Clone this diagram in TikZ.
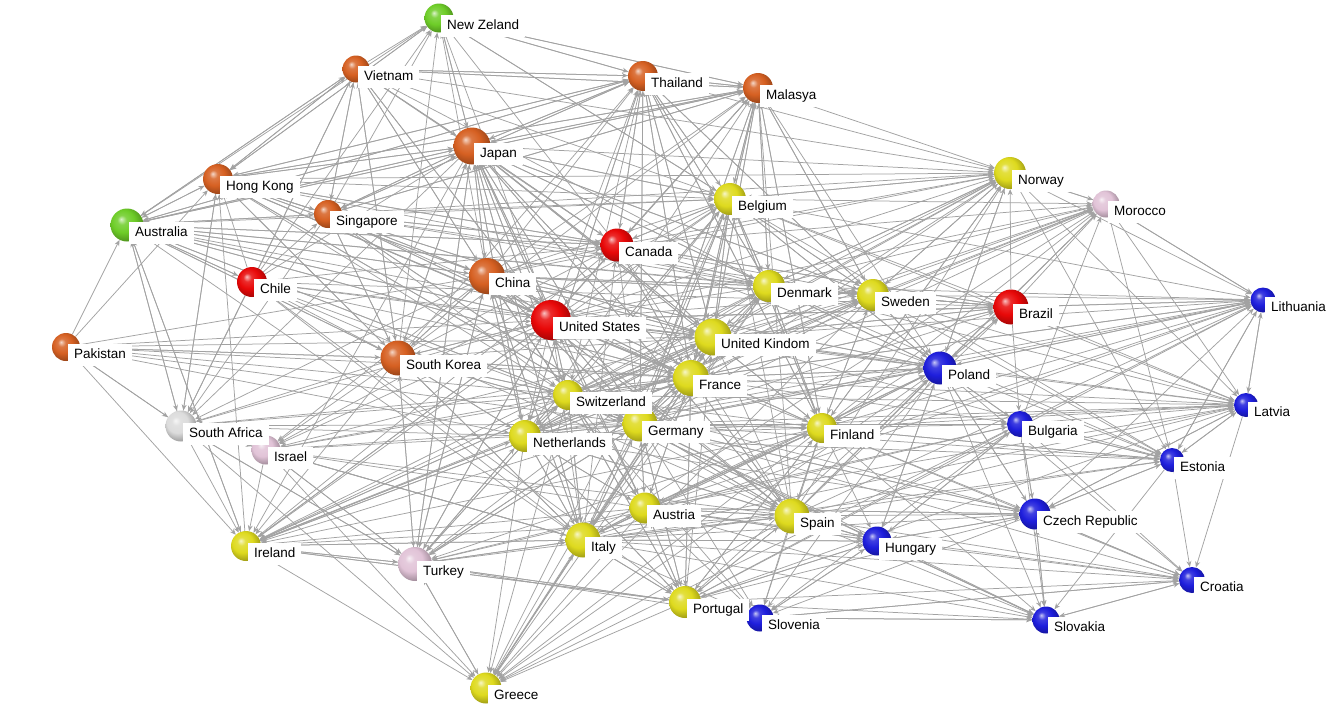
\documentclass[tikz,border=0pt]{standalone}
\usepackage{fontspec}
\setmainfont{Liberation Sans}
\usetikzlibrary{arrows.meta,shadings}
\pgfdeclarelayer{background}
\pgfsetlayers{background,main}
\definecolor{corange}{RGB}{214,96,34}
\definecolor{cred}{RGB}{232,8,8}
\definecolor{cyellow}{RGB}{222,218,30}
\definecolor{cblue}{RGB}{30,30,220}
\definecolor{cgreen}{RGB}{110,205,40}
\definecolor{cpink}{RGB}{225,195,215}
\definecolor{cwhite}{RGB}{220,220,220}
\definecolor{edgegray}{RGB}{162,162,162}
\makeatletter
\pgfdeclareradialshading[tikz@ball]{sphere}{\pgfqpoint{-9bp}{9bp}}{%
  color(0bp)=(tikz@ball!25!white); color(7bp)=(tikz@ball!85!white);
  color(17bp)=(tikz@ball); color(29bp)=(tikz@ball!72!black);
  color(40bp)=(tikz@ball!50!black); color(50bp)=(tikz@ball!40!black)}
\makeatother
\tikzset{
  ballnode/.style={circle, inner sep=0pt, draw=none},
  lbl/.style={anchor=north west, fill=white, inner xsep=6pt, inner ysep=3.5pt,
    text height=11pt, text depth=4pt, font=\fontsize{13.5}{16}\selectfont},
  lnk/.style={draw=edgegray, line width=0.75pt, -{Stealth[length=6pt,width=5pt]}}
}
\def\ctrylist{nz/439/18/29/cgreen/New Zeland,
vn/356/69/27/corange/Vietnam,
th/643/76/30/corange/Thailand,
my/758/88/30/corange/Malasya,
jp/472/146/37/corange/Japan,
hk/218/179/30/corange/Hong Kong,
sg/328/214/28/corange/Singapore,
au/127/225/33/cgreen/Australia,
be/730/199/32/cyellow/Belgium,
no/1010/173/32/cyellow/Norway,
ma/1106/204/27/cpink/Morocco,
ca/617/245/33/cred/Canada,
cn/487/276/36/corange/China,
cl/252/282/30/cred/Chile,
dk/769/286/32/cyellow/Denmark,
se/873/295/32/cyellow/Sweden,
br/1011/307/35/cred/Brazil,
lt/1263/300/25/cblue/Lithuania,
us/551/320/40/cred/United States,
uk/713/337/37/cyellow/United Kindom,
pk/66/347/28/corange/Pakistan,
kr/398/358/35/corange/South Korea,
pl/940/368/33/cblue/Poland,
fr/691/378/36/cyellow/France,
ch/568/395/30/cyellow/Switzerland,
lv/1246/405/24/cblue/Latvia,
za/181/426/31/cwhite/South Africa,
il/266/450/29/cpink/Israel,
nl/525/436/32/cyellow/Netherlands,
de/640/424/35/cyellow/Germany,
fi/822/428/30/cyellow/Finland,
bg/1020/424/26/cblue/Bulgaria,
ee/1172/460/24/cblue/Estonia,
at/645/508/31/cyellow/Austria,
es/792/516/35/cyellow/Spain,
cz/1035/514/31/cblue/Czech Republic,
hu/877/541/29/cblue/Hungary,
ie/246/546/30/cyellow/Ireland,
it/583/540/35/cyellow/Italy,
tr/415/564/34/cpink/Turkey,
hr/1192/580/26/cblue/Croatia,
pt/685/602/32/cyellow/Portugal,
si/760/618/27/cblue/Slovenia,
sk/1046/620/27/cblue/Slovakia,
gr/486/688/31/cyellow/Greece}
\def\linklist{vn/{nz,th,my,hk,au,sg,jp,be,us,cn,kr,ca,dk,no,za},
th/{nz,vn,my,jp,hk,sg,au,no,be,dk,uk,fr,de,se,fi,ch,nl,ca},
my/{nz,th,jp,hk,sg,vn,au,be,dk,se,fi,uk,fr,de,no,pl,ca},
jp/{nz,vn,th,my,hk,sg,au,kr,cn,be,no,ca,de,fr,ch,nl,it,uk,dk,se,fi,at,es,us,tr,ie,za},
hk/{nz,vn,au,sg,jp,th,my,cn,us,ca,uk,fr,de,kr,ch,dk,be,no,za},
sg/{nz,vn,hk,au,th,my,jp,cn,us,ca,uk,fr,de,kr,be,dk,se,no,ch,za},
au/{nz,vn,hk,sg,jp,th,my,us,ca,kr,cn,uk,fr,de,cl,za,ie,be,dk,se},
nz/{th,my,be,jp,hk},
cn/{nz,vn,th,my,jp,hk,sg,au,kr,us,ca,be,dk,no,uk,fr,de,ch,nl,it,es,fi,se,at,pl,tr,za,il},
kr/{nz,vn,th,my,jp,hk,sg,au,cn,us,ca,tr,pk,uk,fr,de,nl,ch,it,ie,za,il},
pk/{au,hk,za,kr,cn,us,uk,nl,ch,de,fr,ie},
cl/{hk,au,sg,vn,jp,nz,us,ca,br,kr,uk,fr,de,es,it,pt,za},
ca/{nz,th,my,jp,hk,sg,au,be,no,uk,us,fr,dk,se,br,ma},
us/{nz,vn,th,my,jp,hk,sg,au,ca,cn,kr,be,no,dk,se,uk,fr,br,ch,nl,de,lt,ie,il,za,ma,tr},
br/{no,ma,lt,pl,se,dk,be,ca,us,uk,fr,lv,bg},
be/{th,my,nz,jp,no,ma,dk,uk,fr,nl,de,lt,se,ca,lv,ee,pl,fi,ie,gr,il},
no/{ma,lt,se,dk,be,lv,ee,fi,pl},
ma/{lt,no,lv,ee},
dk/{no,be,se,uk,fr,lt,lv,ee,ma,my,th,br,jp,cn,pl,fi,ie,gr},
se/{no,dk,be,lt,lv,ee,ma,br,fi,jp,cn,my,th,pl,ie,gr},
uk/{be,no,dk,se,lt,ma,ie,fr,nl,de,ch,us,ca,jp,cn,my,th,br,pl,lv,ee,gr,il},
fr/{be,no,dk,se,uk,ch,de,nl,it,es,pt,gr,at,lt,lv,ma,br,ie,tr,il,za,pl,bg,jp,cn,kr,us,ca,th,my,au},
ch/{uk,fr,de,nl,it,at,es,pt,gr,ie,tr,be,dk,se,no,il,za,kr,us,cn,jp,lt,lv,pl,cz,hu,fi,si,sk,ma},
de/{be,no,dk,se,uk,fr,ch,nl,at,it,es,pt,gr,pl,cz,sk,hu,si,hr,lt,lv,ee,bg,fi,ma,tr,ie,il,za,br,jp,cn,kr,th,my,us,ca,au,hk,sg},
nl/{be,uk,fr,de,ch,it,at,es,pt,gr,ie,tr,il,za,no,dk,se,jp,cn,kr,th,my,lt,lv,ee,pl,fi,cz,hu,ma},
it/{gr,tr,pt,at,es,si,hr,de,fr,ch,nl,uk,ie,il,za,be,dk,hu,sk,cz,jp,cn,kr,us,ca,au,lt,lv,ee,pl,fi,ma},
at/{de,it,ch,si,hr,sk,cz,hu,pt,gr,es,fr,nl,tr,pl,bg,jp,cn,us,fi,lt,lv,ie,il},
es/{pt,it,fr,gr,tr,si,sk,hr,cz,hu,at,de,uk,be,br,ie,fi,jp,cn,us,ca,my,lt,lv,ee,pl,ma,no,il},
pt/{es,it,gr,tr,ie,fr,si,sk,lt,lv,pl,cz,hu,hr,bg,fi,at,de,nl,ch,uk},
gr/{tr,it},
tr/{gr,ie,it,pt,il,za,nl,si,kr,jp,cn,us,uk,fr,de,ch},
ie/{tr,uk,fr,nl,it,pt,gr,us,ca,au,hk},
il/{ie,tr,za,gr,it},
za/{ie,tr,il,au,hk,pk,gr},
fi/{se,no,dk,lt,lv,ee,pl,bg,cz,sk,hu,si,hr,es,pt,it,gr,at,de,be,ma,br,tr,jp,cn,th,my,us,ie},
pl/{lt,lv,ee,cz,sk,hu,bg,hr,si,de,fi,se,no,dk,br,ma,be,us,ca,cn,uk,fr,gr},
bg/{ee,lv,lt,cz,sk,hr,si,hu,pl,tr,gr,ma},
ee/{lv,lt,hr,cz,sk,bg,fi},
lv/{lt,ee,hr,cz},
lt/{lv,ee,pl,ma},
cz/{sk,hr,si,hu,pl,lt,lv,ee,bg,at,de},
sk/{cz,hr,si,hu},
hu/{si,sk,cz,hr,pt,at,it,es,pl,bg},
hr/{sk,si,cz},
si/{sk,hr,pt,hu}}
\begin{document}
\begin{tikzpicture}[x=1pt,y=-1pt]
\useasboundingbox (0,0) rectangle (1338,707);
\foreach \n/\x/\y/\d/\c/\t in \ctrylist {
  \node[ballnode, minimum size=\d pt, ball color=\c, shading=sphere] (\n) at (\x,\y) {};
}
\begin{pgfonlayer}{background}
\foreach \s/\tl in \linklist {
  \foreach \tg in \tl {\draw[lnk] (\s) -- (\tg);}
}
\end{pgfonlayer}
\foreach \n/\x/\y/\d/\c/\t in \ctrylist {
  \node[lbl] (\n-l) at ([shift={(2pt,3pt)}]\n.center) {\t};
}
\end{tikzpicture}
\end{document}
